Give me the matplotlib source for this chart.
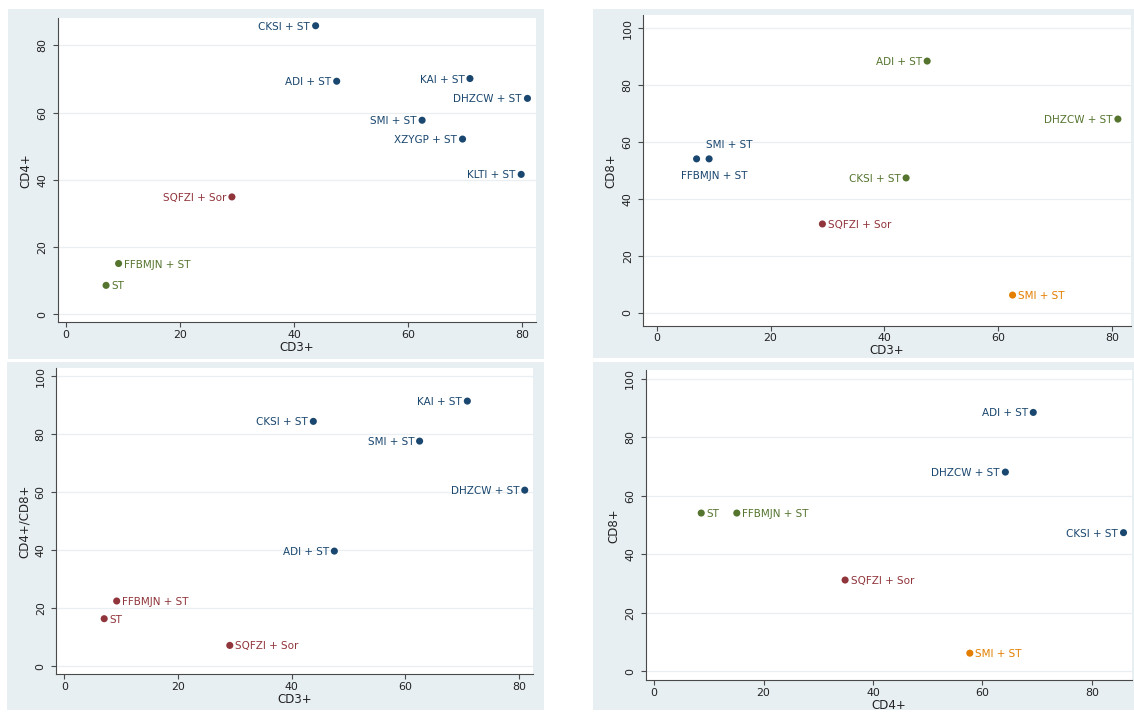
import matplotlib
matplotlib.use("Agg")
import matplotlib.pyplot as plt
from matplotlib.patches import Rectangle

# ---------------------------------------------------------------------------
# Data
# ---------------------------------------------------------------------------
NAVY = "#1a476f"
MAROON = "#90353b"
GREEN = "#55752f"
ORANGE = "#e37e00"

# Panel A: CD3+ vs CD4+
a_labels = ["CKSI + ST", "ADI + ST", "KAI + ST", "DHZCW + ST", "SMI + ST",
            "XZYGP + ST", "KLTI + ST", "SQFZI + Sor", "FFBMJN + ST", "ST"]
a_cd3 = [43.8, 47.5, 70.9, 81.0, 62.5, 69.6, 79.9, 29.1, 9.2, 7.0]
a_cd4 = [85.8, 69.3, 70.1, 64.2, 57.7, 52.1, 41.6, 34.9, 15.1, 8.6]
a_colors = [NAVY] * 7 + [MAROON, GREEN, GREEN]
a_pos = [9, 9, 9, 9, 9, 9, 9, 9, 3, 3]

# Panel B: CD3+ vs CD8+
b_labels = ["ADI + ST", "DHZCW + ST", "CKSI + ST", "SQFZI + Sor", "SMI + ST",
            "FFBMJN + ST", "SMI + ST"]
b_cd3 = [47.5, 81.0, 43.8, 29.1, 62.5, 7.0, 9.2]
b_cd8 = [88.5, 68.1, 47.4, 31.2, 6.2, 54.1, 54.1]
b_colors = [GREEN, GREEN, GREEN, MAROON, ORANGE, NAVY, NAVY]
b_pos = [9, 9, 9, 3, 3, 5, 1]

# Panel C: CD3+ vs CD4+/CD8+
c_labels = ["KAI + ST", "CKSI + ST", "SMI + ST", "DHZCW + ST", "ADI + ST",
            "FFBMJN + ST", "ST", "SQFZI + Sor"]
c_cd3 = [70.9, 43.8, 62.5, 81.0, 47.5, 9.2, 7.0, 29.1]
c_ratio = [91.4, 84.4, 77.6, 60.7, 39.7, 22.5, 16.4, 7.2]
c_colors = [NAVY] * 5 + [MAROON] * 3
c_pos = [9, 9, 9, 9, 9, 3, 3, 3]

# Panel D: CD4+ vs CD8+
d_labels = ["ADI + ST", "DHZCW + ST", "CKSI + ST", "ST", "FFBMJN + ST",
            "SQFZI + Sor", "SMI + ST"]
d_cd4 = [69.3, 64.2, 85.8, 8.6, 15.1, 34.9, 57.7]
d_cd8 = [88.5, 68.1, 47.4, 54.1, 54.1, 31.2, 6.2]
d_colors = [NAVY, NAVY, NAVY, GREEN, GREEN, MAROON, ORANGE]
d_pos = [9, 9, 9, 3, 3, 3, 3]

x_ticks = [0, 20, 40, 60, 80]

# ---------------------------------------------------------------------------
# Styling
# ---------------------------------------------------------------------------
W, H = 1134, 712
DPI = 100
PT = 72.0 / DPI  # points per pixel

plt.rcParams["font.family"] = ["DejaVu Sans"]

BG = "#e7eff3"
GRID = "#e9eff2"
AXIS = "#4a4a4a"
TEXT = "#222222"

# label offsets (pixels) for clock positions
OFFSETS = {
    9: ((-5.5, 0.0), "right"),
    3: ((5.5, 0.0), "left"),
    1: ((19.7, 15.3), "center"),
    5: ((17.7, -16.3), "center"),
}

fig = plt.figure(figsize=(W / DPI, H / DPI), dpi=DPI)
fig.patch.set_facecolor("white")


def add_panel(bg_box, ax_box, xlim, ylim, yticks, xs, ys, labels, colors,
              positions, xtitle, ytitle):
    bx0, by0, bx1, by1 = bg_box
    fig.patches.append(Rectangle((bx0 / W, 1 - by1 / H), (bx1 - bx0) / W,
                                 (by1 - by0) / H, transform=fig.transFigure,
                                 facecolor=BG, edgecolor="none", zorder=-10))
    x0, y0, x1, y1 = ax_box
    axw, axh = x1 - x0, y1 - y0
    ax = fig.add_axes([x0 / W, 1 - y1 / H, axw / W, axh / H])
    ax.set_zorder(1)
    ax.set_facecolor("white")
    ax.set_xlim(*xlim)
    ax.set_ylim(*ylim)
    ax.set_xticks(x_ticks)
    ax.set_yticks(yticks)
    ax.grid(axis="y", color=GRID, lw=0.9, zorder=0)
    ax.set_axisbelow(True)
    for s in ("top", "right"):
        ax.spines[s].set_visible(False)
    for s in ("left", "bottom"):
        ax.spines[s].set_color(AXIS)
        ax.spines[s].set_linewidth(0.8)
    ax.tick_params(axis="both", direction="out", length=5 * PT, width=0.8,
                   color=AXIS, labelcolor=TEXT, labelsize=7.9)
    ax.tick_params(axis="x", pad=1.8)
    ax.tick_params(axis="y", pad=3.8, labelrotation=90)
    for lab in ax.get_yticklabels():
        lab.set_va("center")

    ax.set_xlabel(xtitle, fontsize=8.5, color=TEXT)
    ax.set_ylabel(ytitle, fontsize=8.5, color=TEXT)
    ax.xaxis.set_label_coords(0.5, -18.5 / axh)
    ax.yaxis.set_label_coords(-25.5 / axw, 0.5)

    ax.scatter(xs, ys, s=26, c=colors, edgecolors="none", zorder=3,
               clip_on=False)
    for x, y, lab, col, p in zip(xs, ys, labels, colors, positions):
        (dx, dy), ha = OFFSETS[p]
        ax.annotate(lab, (x, y), xytext=(dx * PT, dy * PT),
                    textcoords="offset points", ha=ha, va="center_baseline",
                    fontsize=7.5, color=col, zorder=4)
    return ax


add_panel((8, 9, 544, 359), (57.5, 18, 536, 322.3), (-1.53, 82.5),
          (-2.38, 88.1), [0, 20, 40, 60, 80], a_cd3, a_cd4, a_labels,
          a_colors, a_pos, "CD3+", "CD4+")

add_panel((593, 9, 1134, 357.7), (643, 15, 1131, 326), (-2.41, 83.3),
          (-4.68, 104.7), [0, 20, 40, 60, 80, 100], b_cd3, b_cd8, b_labels,
          b_colors, b_pos, "CD3+", "CD8+")

add_panel((6.5, 361.7, 543.6, 710), (56, 367.7, 532.7, 674.3), (-1.48, 82.4),
          (-2.76, 102.9), [0, 20, 40, 60, 80, 100], c_cd3, c_ratio, c_labels,
          c_colors, c_pos, "CD3+", "CD4+/CD8+")

add_panel((593, 361.7, 1134, 710), (645.5, 370.3, 1132, 680.3), (-1.59, 87.35),
          (-3.08, 102.9), [0, 20, 40, 60, 80, 100], d_cd4, d_cd8, d_labels,
          d_colors, d_pos, "CD4+", "CD8+")

fig.savefig("out.png", dpi=DPI, facecolor=fig.get_facecolor())
